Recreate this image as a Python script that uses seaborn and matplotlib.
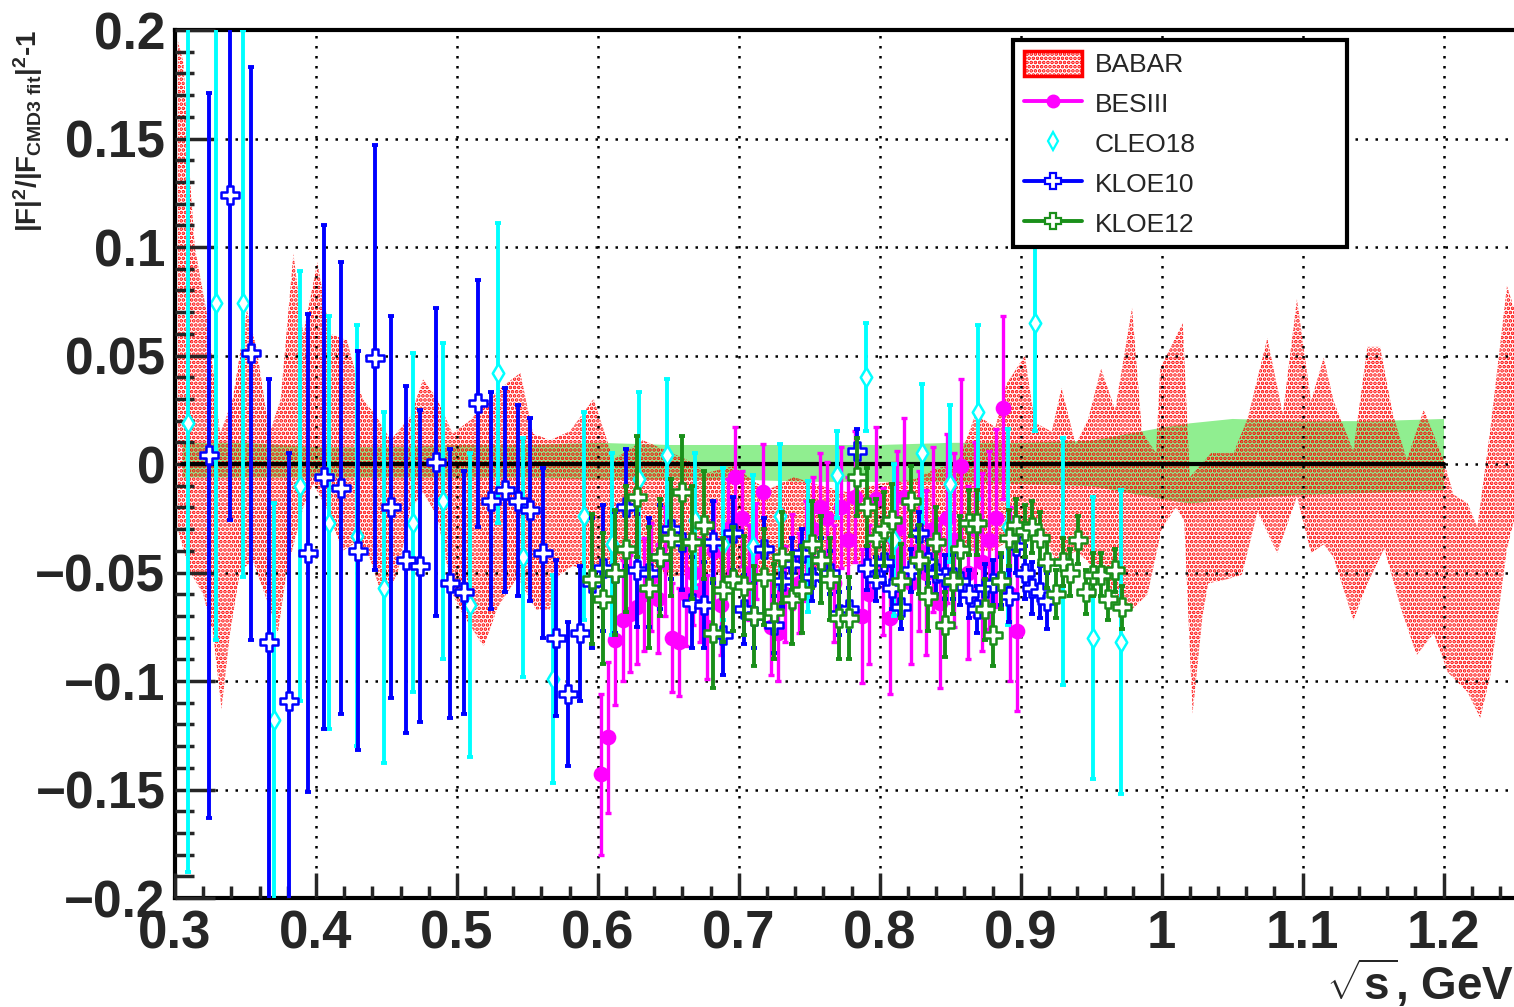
import matplotlib
matplotlib.use("Agg")
import matplotlib.pyplot as plt
import seaborn as sns
import pandas as pd
from matplotlib.ticker import MultipleLocator, FuncFormatter
from matplotlib.lines import Line2D
from matplotlib.patches import Patch

# ---- data ----
# CMD-3 fit reference line (ratio = 0)
fit_x = [0.305, 1.2]
fit_y = [0.0, 0.0]

# CMD-3 systematic band (green)
band_x = [0.305, 0.35, 0.40, 0.45, 0.50, 0.55, 0.60, 0.65, 0.70, 0.75, 0.80, 0.85, 0.90, 0.95, 1.00, 1.02, 1.05, 1.10, 1.15, 1.20]
band_hi = [0.010, 0.010, 0.008, 0.008, 0.009, 0.009, 0.010, 0.009, 0.009, 0.009, 0.009, 0.010, 0.010, 0.011, 0.017, 0.019, 0.021, 0.020, 0.020, 0.021]
band_lo = [-0.006, -0.006, -0.006, -0.006, -0.006, -0.006, -0.007, -0.007, -0.007, -0.008, -0.008, -0.008, -0.009, -0.010, -0.016, -0.018, -0.016, -0.014, -0.013, -0.012]

# BABAR band: upper and lower edges
babar_up_x = [0.302, 0.306, 0.311, 0.314, 0.323, 0.332, 0.341, 0.351, 0.358, 0.367, 0.375, 0.384, 0.391, 0.401, 0.410,
              0.422, 0.433, 0.443, 0.453, 0.467, 0.476, 0.486, 0.497, 0.509, 0.531, 0.545, 0.554, 0.566, 0.580, 0.597,
              0.611, 0.632, 0.663, 0.678, 0.696, 0.720, 0.739, 0.758, 0.777, 0.800, 0.825, 0.840, 0.855, 0.868, 0.882,
              0.890, 0.903, 0.910, 0.922, 0.929, 0.939, 0.948, 0.957, 0.967, 0.979, 0.986, 0.996, 0.999, 1.015, 1.020,
              1.035, 1.051, 1.061, 1.075, 1.086, 1.096, 1.106, 1.115, 1.122, 1.136, 1.146, 1.155, 1.164, 1.174, 1.186,
              1.200, 1.207, 1.217, 1.224, 1.233, 1.245, 1.250]
babar_up_y = [0.195, 0.185, 0.128, 0.100, 0.068, 0.014, 0.030, 0.071, 0.053, 0.014, 0.030, 0.097, 0.060, 0.093, 0.060,
              0.057, 0.030, 0.022, 0.011, 0.022, 0.039, 0.030, 0.014, 0.020, 0.035, 0.042, 0.014, 0.011, 0.015, 0.030,
              0.002, 0.011, 0.002, -0.004, -0.001, -0.012, -0.006, -0.010, -0.013, -0.009, -0.007, -0.002, 0.000, 0.023, 0.017,
              0.037, 0.050, 0.019, 0.015, 0.035, 0.009, 0.021, 0.044, 0.025, 0.072, 0.015, 0.005, 0.044, 0.065, -0.006,
              0.005, 0.005, 0.021, 0.058, 0.023, 0.076, 0.029, 0.049, 0.029, 0.006, 0.054, 0.054, 0.023, 0.002, 0.025,
              0.002, -0.014, -0.018, -0.029, 0.015, 0.082, 0.072]
babar_lo_x = [0.302, 0.304, 0.311, 0.320, 0.327, 0.333, 0.339, 0.346, 0.355, 0.367, 0.373, 0.379, 0.391, 0.398, 0.408,
              0.419, 0.429, 0.438, 0.448, 0.458, 0.467, 0.476, 0.486, 0.497, 0.504, 0.519, 0.529, 0.543, 0.556, 0.566,
              0.571, 0.582, 0.602, 0.625, 0.650, 0.680, 0.710, 0.740, 0.770, 0.800, 0.830, 0.860, 0.880, 0.900, 0.915,
              0.925, 0.940, 0.955, 0.967, 0.979, 0.990, 1.000, 1.010, 1.016, 1.022, 1.029, 1.033, 1.047, 1.057, 1.068,
              1.082, 1.096, 1.106, 1.115, 1.122, 1.136, 1.146, 1.158, 1.170, 1.181, 1.193, 1.203, 1.217, 1.226, 1.233,
              1.245, 1.250]
babar_lo_y = [-0.030, -0.035, -0.050, -0.060, -0.078, -0.113, -0.078, -0.050, -0.044, -0.066, -0.078, -0.050, -0.020, -0.009, -0.021,
              -0.040, -0.036, -0.043, -0.063, -0.050, -0.021, -0.013, -0.024, -0.060, -0.069, -0.084, -0.066, -0.052, -0.067, -0.067,
              -0.052, -0.047, -0.050, -0.041, -0.052, -0.050, -0.055, -0.050, -0.048, -0.044, -0.045, -0.040, -0.040, -0.032, -0.030,
              -0.045, -0.040, -0.050, -0.060, -0.067, -0.060, -0.030, -0.020, -0.026, -0.115, -0.070, -0.055, -0.053, -0.051, -0.022,
              -0.041, -0.015, -0.041, -0.037, -0.043, -0.072, -0.055, -0.039, -0.067, -0.088, -0.078, -0.096, -0.105, -0.117, -0.098,
              -0.039, -0.026]

# BESIII
besiii_x = [0.6025, 0.6075, 0.6125, 0.6175, 0.6225, 0.6275, 0.6325, 0.6375, 0.6425, 0.6475,
            0.6525, 0.6575, 0.6625, 0.6675, 0.6725, 0.6775, 0.6825, 0.6875, 0.6925, 0.6975,
            0.7025, 0.7075, 0.7125, 0.7175, 0.7225, 0.7275, 0.7325, 0.7375, 0.7425, 0.7475,
            0.7525, 0.7575, 0.7625, 0.7675, 0.7725, 0.7775, 0.7825, 0.7875, 0.7925, 0.7975,
            0.8025, 0.8075, 0.8125, 0.8175, 0.8225, 0.8275, 0.8325, 0.8375, 0.8425, 0.8475,
            0.8525, 0.8575, 0.8625, 0.8675, 0.8725, 0.8775, 0.8825, 0.8875, 0.8925, 0.8975]
besiii_y = [-0.143, -0.126, -0.081, -0.072, -0.069, -0.066, -0.060, -0.052, -0.062, -0.045,
            -0.080, -0.082, -0.060, -0.050, -0.058, -0.075, -0.040, -0.065, -0.030, -0.006,
            -0.025, -0.050, -0.040, -0.013, -0.075, -0.078, -0.060, -0.045, -0.055, -0.040,
            -0.030, -0.020, -0.025, -0.055, -0.020, -0.035, -0.015, -0.070, -0.060, -0.016,
            -0.045, -0.071, -0.030, -0.015, -0.055, -0.040, -0.050, -0.030, -0.064, -0.025,
            -0.035, -0.001, -0.050, -0.030, -0.045, -0.035, -0.025, 0.026, -0.060, -0.077]
besiii_err = [0.037, 0.035, 0.030, 0.028, 0.027, 0.026, 0.026, 0.025, 0.025, 0.025,
              0.025, 0.025, 0.024, 0.024, 0.024, 0.024, 0.023, 0.023, 0.023, 0.023,
              0.022, 0.022, 0.022, 0.022, 0.022, 0.022, 0.022, 0.022, 0.023, 0.023,
              0.024, 0.025, 0.026, 0.027, 0.028, 0.029, 0.030, 0.031, 0.032, 0.033,
              0.034, 0.035, 0.036, 0.036, 0.037, 0.037, 0.038, 0.038, 0.039, 0.039,
              0.040, 0.040, 0.040, 0.040, 0.041, 0.041, 0.041, 0.042, 0.040, 0.037]

# CLEO18
cleo_x = [0.309, 0.329, 0.348, 0.370, 0.389, 0.409, 0.429, 0.448, 0.469, 0.490, 0.509, 0.529,
          0.547, 0.568, 0.590, 0.610, 0.629, 0.649, 0.669, 0.689, 0.710, 0.729, 0.749, 0.770,
          0.790, 0.810, 0.830, 0.850, 0.870, 0.891, 0.910, 0.930, 0.951, 0.971]
cleo_y = [0.019, 0.074, 0.074, -0.118, -0.010, -0.027, -0.033, -0.057, -0.027, -0.017, -0.065, 0.042,
          -0.043, -0.099, -0.024, -0.037, -0.007, 0.004, -0.026, -0.037, -0.038, -0.024, -0.038, -0.005,
          0.040, -0.035, 0.005, -0.009, 0.024, -0.029, 0.065, -0.045, -0.080, -0.082]
cleo_err = [0.207, 0.155, 0.126, 0.100, 0.099, 0.095, 0.097, 0.081, 0.078, 0.073, 0.070, 0.069,
            0.055, 0.048, 0.048, 0.042, 0.040, 0.035, 0.031, 0.035, 0.033, 0.033, 0.030, 0.020,
            0.025, 0.035, 0.032, 0.036, 0.040, 0.045, 0.050, 0.057, 0.065, 0.070]

# KLOE10
kloe10_x = [0.324, 0.339, 0.354, 0.367, 0.381, 0.394, 0.406, 0.418, 0.430, 0.442,
            0.453, 0.464, 0.474, 0.485, 0.495, 0.505, 0.515, 0.524, 0.534, 0.543,
            0.552, 0.561, 0.570, 0.579, 0.587, 0.596, 0.604, 0.612, 0.620, 0.628,
            0.636, 0.644, 0.652, 0.660, 0.667, 0.675, 0.682, 0.689, 0.696, 0.704,
            0.711, 0.718, 0.725, 0.731, 0.738, 0.745, 0.752, 0.758, 0.765, 0.771,
            0.778, 0.784, 0.791, 0.797, 0.803, 0.809, 0.815, 0.822, 0.828, 0.834,
            0.840, 0.846, 0.852, 0.857, 0.863, 0.869, 0.875, 0.880, 0.886, 0.892,
            0.897, 0.903, 0.908, 0.914, 0.919]
kloe10_y = [0.004, 0.124, 0.051, -0.082, -0.109, -0.041, -0.006, -0.011, -0.040, 0.049,
            -0.020, -0.044, -0.047, 0.001, -0.055, -0.059, 0.028, -0.017, -0.012, -0.017,
            -0.021, -0.041, -0.080, -0.106, -0.078, -0.055, -0.048, -0.050, -0.020, -0.049,
            -0.050, -0.043, -0.030, -0.036, -0.064, -0.065, -0.036, -0.079, -0.032, -0.067,
            -0.070, -0.039, -0.074, -0.054, -0.046, -0.041, -0.052, -0.044, -0.050, -0.069,
            -0.067, 0.006, -0.048, -0.053, -0.045, -0.057, -0.066, -0.049, -0.032, -0.045,
            -0.050, -0.052, -0.052, -0.054, -0.060, -0.067, -0.057, -0.055, -0.054, -0.061,
            -0.038, -0.050, -0.057, -0.059, -0.063]
kloe10_err = [0.167, 0.150, 0.132, 0.121, 0.114, 0.110, 0.116, 0.104, 0.092, 0.098,
              0.088, 0.080, 0.072, 0.071, 0.062, 0.056, 0.057, 0.050, 0.047, 0.044,
              0.042, 0.039, 0.036, 0.033, 0.031, 0.030, 0.029, 0.028, 0.027, 0.026,
              0.025, 0.024, 0.023, 0.022, 0.021, 0.020, 0.019, 0.018, 0.017, 0.016,
              0.015, 0.014, 0.013, 0.012, 0.012, 0.011, 0.011, 0.010, 0.010, 0.010,
              0.010, 0.010, 0.010, 0.010, 0.010, 0.010, 0.010, 0.010, 0.010, 0.010,
              0.010, 0.010, 0.010, 0.011, 0.011, 0.011, 0.011, 0.011, 0.011, 0.012,
              0.012, 0.012, 0.012, 0.012, 0.013]

# KLOE12
kloe12_x = [0.596, 0.604, 0.612, 0.620, 0.628, 0.636, 0.644, 0.652, 0.660, 0.667,
            0.675, 0.682, 0.689, 0.696, 0.704, 0.711, 0.718, 0.725, 0.731, 0.738,
            0.745, 0.752, 0.758, 0.765, 0.771, 0.778, 0.784, 0.791, 0.797, 0.803,
            0.809, 0.815, 0.822, 0.828, 0.834, 0.840, 0.846, 0.852, 0.857, 0.863,
            0.869, 0.875, 0.880, 0.886, 0.892, 0.897, 0.903, 0.908, 0.914, 0.919,
            0.925, 0.930, 0.935, 0.941, 0.946, 0.951, 0.957, 0.962, 0.967, 0.972]
kloe12_y = [-0.053, -0.062, -0.050, -0.039, -0.015, -0.057, -0.043, -0.034, -0.013, -0.036,
            -0.028, -0.078, -0.058, -0.053, -0.056, -0.070, -0.052, -0.068, -0.043, -0.062,
            -0.058, -0.037, -0.044, -0.053, -0.071, -0.071, -0.006, -0.020, -0.034, -0.030,
            -0.026, -0.054, -0.017, -0.044, -0.061, -0.036, -0.074, -0.054, -0.039, -0.027,
            -0.027, -0.067, -0.079, -0.054, -0.034, -0.028, -0.031, -0.029, -0.034, -0.045,
            -0.060, -0.045, -0.050, -0.035, -0.059, -0.051, -0.051, -0.062, -0.049, -0.066]
kloe12_err = [0.030, 0.030, 0.029, 0.029, 0.028, 0.028, 0.027, 0.027, 0.026, 0.026,
              0.025, 0.025, 0.024, 0.024, 0.023, 0.023, 0.022, 0.022, 0.021, 0.021,
              0.020, 0.020, 0.020, 0.019, 0.019, 0.019, 0.018, 0.018, 0.018, 0.017,
              0.017, 0.017, 0.016, 0.016, 0.016, 0.016, 0.015, 0.015, 0.015, 0.015,
              0.015, 0.014, 0.014, 0.013, 0.013, 0.012, 0.012, 0.012, 0.012, 0.012,
              0.011, 0.011, 0.011, 0.011, 0.010, 0.010, 0.010, 0.010, 0.010, 0.010]

# ---- style ----
sns.set_theme(style="white")
plt.rcParams["font.family"] = ["Liberation Sans", "DejaVu Sans"]
plt.rcParams["mathtext.fontset"] = "custom"
plt.rcParams["mathtext.rm"] = "Liberation Sans:bold"
plt.rcParams["mathtext.it"] = "Liberation Sans:bold"
plt.rcParams["mathtext.bf"] = "Liberation Sans:bold"
plt.rcParams["hatch.linewidth"] = 1.8

fig = plt.figure(figsize=(15.14, 10.07), dpi=100)
ax = fig.add_axes([0.1156, 0.1082, 0.8844, 0.8620])

# bands
ax.fill_between(band_x, band_lo, band_hi, color="#90EE90", lw=0, zorder=1)
poly_x = babar_up_x + babar_lo_x[::-1]
poly_y = babar_up_y + babar_lo_y[::-1]
ax.fill(poly_x, poly_y, facecolor="none", edgecolor="red", hatch="....", lw=0, zorder=2)
ax.plot(fit_x, fit_y, color="black", lw=3, zorder=3)

series = [
    ("BESIII", besiii_x, besiii_y, besiii_err, "#FF00FF", "o", 90, 2.4, 4),
    ("CLEO18", cleo_x, cleo_y, cleo_err, "#00FFFF", "d", 95, 2.8, 5),
    ("KLOE10", kloe10_x, kloe10_y, kloe10_err, "#0000FF", "P", 170, 2.8, 6),
    ("KLOE12", kloe12_x, kloe12_y, kloe12_err, "#1A8F1A", "P", 170, 2.8, 7),
]
for name, xs, ys, es, col, mk, size, lw, z in series:
    ax.errorbar(xs, ys, yerr=es, fmt="none", ecolor=col, elinewidth=lw,
                capsize=2.5, capthick=lw, zorder=z)
    df = pd.DataFrame({"x": xs, "y": ys})
    face = col if mk == "o" else "white"
    sns.scatterplot(data=df, x="x", y="y", marker=mk, s=size, color=face,
                    edgecolor=col, linewidth=1.8, ax=ax, zorder=z + 0.5, legend=False)

# axes
ax.set_xlim(0.3, 1.25)
ax.set_ylim(-0.2, 0.2)
ax.xaxis.set_major_locator(MultipleLocator(0.1))
ax.xaxis.set_minor_locator(MultipleLocator(0.02))
ax.yaxis.set_major_locator(MultipleLocator(0.05))
ax.yaxis.set_minor_locator(MultipleLocator(0.01))
fmt = FuncFormatter(lambda v, p: f"{round(v, 3) + 0.0:g}".replace("-", "\u2212"))
ax.xaxis.set_major_formatter(fmt)
ax.yaxis.set_major_formatter(fmt)
ax.grid(True, which="major", color="black", linestyle=(0, (1, 3)), lw=1.8)
ax.set_axisbelow(False)
for gl in ax.get_xgridlines() + ax.get_ygridlines():
    gl.set_zorder(1.5)

ax.tick_params(axis="y", which="major", direction="in", length=29, width=2.5, pad=7,
               left=True, right=False, labelsize=37)
ax.tick_params(axis="y", which="minor", direction="in", length=14, width=2.5, left=True, right=False)
ax.tick_params(axis="x", which="major", direction="in", length=18, width=2.5, pad=8,
               bottom=True, top=False, labelsize=38)
ax.tick_params(axis="x", which="minor", direction="in", length=9, width=2.5, bottom=True, top=False)
for lab in ax.get_xticklabels() + ax.get_yticklabels():
    lab.set_fontweight("bold")

for side in ["left", "bottom", "top"]:
    ax.spines[side].set_linewidth(3)
    ax.spines[side].set_color("black")
ax.spines["right"].set_visible(False)

ax.set_xlabel(r"$\sqrt{s}$, GeV", fontsize=33, fontweight="bold", loc="right")
ax.xaxis.set_label_coords(1.0, -0.068)
ax.set_ylabel(r"$|F|^{2}/|F_{CMD3\ fit}|^{2}$-1", fontsize=20, fontweight="bold", loc="top")
ax.yaxis.set_label_coords(-0.097, 1.0)

handles = [
    Patch(facecolor="none", edgecolor="red", hatch="....", linewidth=2.5, label="BABAR"),
    Line2D([], [], color="#FF00FF", lw=2.8, marker="o", ms=9, label="BESIII"),
    Line2D([], [], color="#00FFFF", lw=0, marker="d", ms=9, mfc="white", mec="#00FFFF", mew=1.6, label="CLEO18"),
    Line2D([], [], color="#0000FF", lw=2.8, marker="P", ms=11, mfc="white", mec="#0000FF", mew=1.6, label="KLOE10"),
    Line2D([], [], color="#1A8F1A", lw=2.8, marker="P", ms=11, mfc="white", mec="#1A8F1A", mew=1.6, label="KLOE12"),
]
leg = ax.legend(handles=handles, loc="upper left", bbox_to_anchor=(0.626, 0.75, 0.2494, 0.2385),
                mode="expand", frameon=True, fancybox=False, edgecolor="black", framealpha=1,
                fontsize=19, handlelength=2.2, handleheight=1.1, handletextpad=0.5,
                labelspacing=0.5, borderpad=0.4, borderaxespad=0)
leg.get_frame().set_linewidth(3)
leg.set_zorder(10)

fig.savefig("out.png", dpi=100)
